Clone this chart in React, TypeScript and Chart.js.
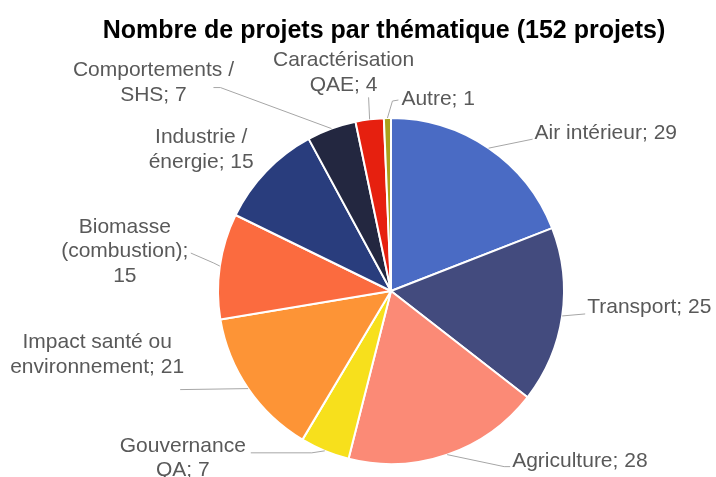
import React, { useEffect, useRef } from "react";
import { Chart, registerables } from "chart.js";

Chart.register(...registerables);

const TITLE = "Nombre de projets par thématique (152 projets)";
const CATEGORIES = [
  "Air intérieur",
  "Transport",
  "Agriculture",
  "Gouvernance QA",
  "Impact santé ou environnement",
  "Biomasse (combustion)",
  "Industrie / énergie",
  "Comportements / SHS",
  "Caractérisation QAE",
  "Autre",
];
const VALUES = [29, 25, 28, 7, 21, 15, 15, 7, 4, 1];
const LABEL_LINES = [
  ["Air intérieur; 29"],
  ["Transport; 25"],
  ["Agriculture; 28"],
  ["Gouvernance", "QA; 7"],
  ["Impact santé ou", "environnement; 21"],
  ["Biomasse", "(combustion);", "15"],
  ["Industrie /", "énergie; 15"],
  ["Comportements /", "SHS; 7"],
  ["Caractérisation", "QAE; 4"],
  ["Autre; 1"],
];
const COLORS = [
  "#4a6bc4",
  "#434b7e",
  "#fb8a76",
  "#f7e01c",
  "#fd9436",
  "#fb6b3f",
  "#293d7d",
  "#232740",
  "#e6200f",
  "#a9a21c",
];

// layout of labels relative to the slice's outer-edge midpoint
type Layout = { align: CanvasTextAlign; tx: number; ty: number; leader: number[][] };
const LAYOUT: Layout[] = [
  { align: "left", tx: 46, ty: -15, leader: [[44, -9]] },
  { align: "left", tx: 25, ty: -9, leader: [[23, -2]] },
  { align: "left", tx: 65, ty: 7, leader: [[57, 12], [63, 12]] },
  { align: "center", tx: -142, ty: -5, leader: [[-13, 2], [-74, 2]] },
  { align: "center", tx: -151, ty: -46, leader: [[-68, 1]] },
  { align: "center", tx: -95, ty: -39, leader: [[-6, -3], [-29, -13]] },
  { align: "center", tx: -65, ty: -34, leader: [] },
  { align: "center", tx: -178, ty: -58, leader: [[-111, -41], [-118, -41]] },
  { align: "center", tx: -26, ty: -59, leader: [[-1, -22]] },
  { align: "left", tx: 14, ty: -19, leader: [[5, -17], [11, -18]] },
];

const labelPlugin = {
  id: "pieLabels",
  afterDraw(chart: any) {
    const ctx = chart.ctx as CanvasRenderingContext2D;
    const meta = chart.getDatasetMeta(0);
    ctx.save();
    // title
    ctx.fillStyle = "#000000";
    ctx.font = "bold 25px 'Liberation Sans', Arial, sans-serif";
    ctx.textAlign = "center";
    ctx.textBaseline = "middle";
    ctx.fillText(TITLE, 384, 31);

    ctx.font = "21px 'Liberation Sans', Arial, sans-serif";
    meta.data.forEach((arc: any, i: number) => {
      const p = arc.getProps(["x", "y", "startAngle", "endAngle", "outerRadius"], true);
      const mid = (p.startAngle + p.endAngle) / 2;
      const ex = p.x + Math.cos(mid) * p.outerRadius;
      const ey = p.y + Math.sin(mid) * p.outerRadius;
      const lay = LAYOUT[i];
      if (lay.leader.length) {
        ctx.strokeStyle = "#a6a6a6";
        ctx.lineWidth = 1;
        ctx.beginPath();
        ctx.moveTo(ex, ey);
        lay.leader.forEach((pt) => ctx.lineTo(ex + pt[0], ey + pt[1]));
        ctx.stroke();
      }
      ctx.fillStyle = "#595959";
      ctx.textAlign = lay.align;
      ctx.textBaseline = "middle";
      LABEL_LINES[i].forEach((line, j) => {
        ctx.fillText(line, ex + lay.tx, ey + lay.ty + j * 24.5);
      });
    });
    ctx.restore();
  },
};

export default function App() {
  const ref = useRef<HTMLCanvasElement | null>(null);
  useEffect(() => {
    document.body.style.margin = "0";
    const chart = new Chart(ref.current as HTMLCanvasElement, {
      type: "pie",
      data: {
        labels: CATEGORIES,
        datasets: [
          {
            data: VALUES,
            backgroundColor: COLORS,
            borderColor: "#ffffff",
            borderWidth: 2,
          },
        ],
      },
      options: {
        responsive: false,
        animation: false,
        layout: { padding: { top: 117, bottom: 12, left: 217, right: 151 } },
        plugins: {
          legend: { display: false },
          tooltip: { enabled: false },
          title: { display: false },
        },
      },
      plugins: [labelPlugin],
    });
    return () => chart.destroy();
  }, []);
  return (
    <div style={{ position: "fixed", left: 0, top: 0, width: 716, height: 477, background: "#fff" }}>
      <canvas ref={ref} width={716} height={477} style={{ display: "block" }} />
    </div>
  );
}
